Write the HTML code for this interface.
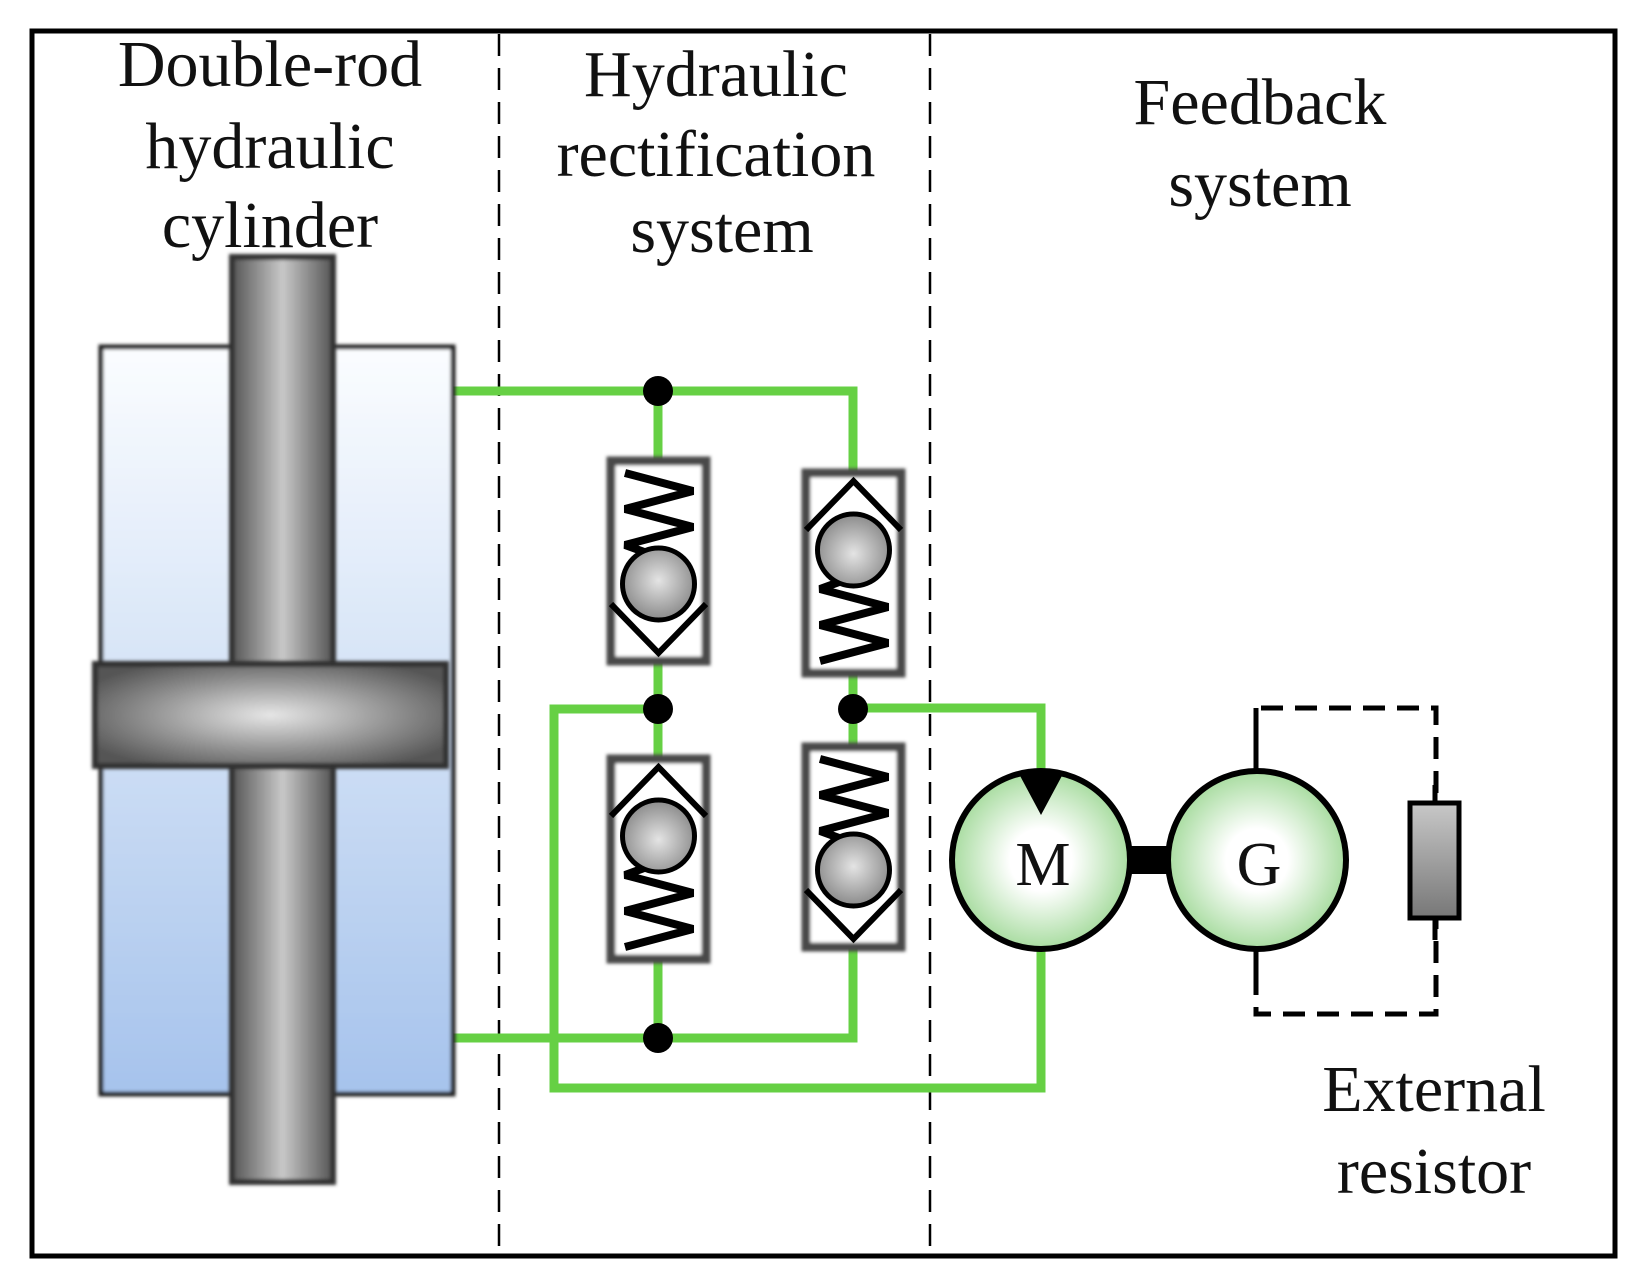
<!DOCTYPE html>
<html><head><meta charset="utf-8"><style>
html,body{margin:0;padding:0;background:#fff}
svg{display:block}
text{font-family:"Liberation Serif",serif;font-size:66px;fill:#111;text-anchor:middle}
</style></head><body>
<svg width="1637" height="1275" viewBox="0 0 1637 1275" xmlns="http://www.w3.org/2000/svg">
<defs>
<linearGradient id="body" x1="0" y1="0" x2="0" y2="1"><stop offset="0" stop-color="#fbfdff"/><stop offset="1" stop-color="#a6c3ec"/></linearGradient>
<linearGradient id="rod" x1="0" y1="0" x2="1" y2="0"><stop offset="0" stop-color="#555"/><stop offset="0.5" stop-color="#c8c8c8"/><stop offset="1" stop-color="#555"/></linearGradient>
<radialGradient id="pist" cx="0.5" cy="0.5" r="0.6"><stop offset="0" stop-color="#e6e6e6"/><stop offset="1" stop-color="#555"/></radialGradient>
<radialGradient id="ball" cx="0.5" cy="0.45" r="0.55"><stop offset="0" stop-color="#e4e4e4"/><stop offset="1" stop-color="#8a8a8a"/></radialGradient>
<radialGradient id="mot" cx="0.5" cy="0.5" r="0.5"><stop offset="0.35" stop-color="#fff"/><stop offset="1" stop-color="#a8dca0"/></radialGradient>
<linearGradient id="res" x1="0" y1="0" x2="0" y2="1"><stop offset="0" stop-color="#c8c8c8"/><stop offset="1" stop-color="#777"/></linearGradient>
<filter id="bl"><feGaussianBlur stdDeviation="1.5"/></filter>
<g id="valve">
<rect x="0" y="0" width="95" height="200" fill="#fff" stroke="#4a4a4a" stroke-width="9" filter="url(#bl)"/>
<polyline points="14,12 82,30 14,48 82,66 14,84 47,96" fill="none" stroke="#000" stroke-width="8" stroke-linejoin="bevel"/>
<polyline points="0,143 47.5,192 95,143" fill="none" stroke="#000" stroke-width="6"/>
<circle cx="47.5" cy="123" r="36" fill="url(#ball)" stroke="#000" stroke-width="5"/>
</g>
</defs>

<rect x="32" y="31" width="1583" height="1225" fill="none" stroke="#000" stroke-width="5"/>
<line x1="499" y1="34" x2="499" y2="1250" stroke="#000" stroke-width="2.5" stroke-dasharray="22,12"/>
<line x1="930" y1="34" x2="930" y2="1250" stroke="#000" stroke-width="2.5" stroke-dasharray="22,12"/>

<text x="270" y="86">Double-rod</text>
<text x="270" y="168">hydraulic</text>
<text x="270" y="247">cylinder</text>
<text x="716" y="96">Hydraulic</text>
<text x="716" y="176">rectification</text>
<text x="722" y="252">system</text>
<text x="1260" y="124">Feedback</text>
<text x="1260" y="206">system</text>
<text x="1434" y="1111">External</text>
<text x="1434" y="1193">resistor</text>

<g fill="none" stroke="#66d044" stroke-width="9">
<polyline points="453,391 853,391 853,1038 453,1038"/>
<line x1="658" y1="391" x2="658" y2="1038"/>
<polyline points="658,709 554,709 554,1088 1041,1088 1041,940"/>
<polyline points="853,708 1041,708 1041,780"/>
</g>

<rect x="101" y="347" width="352" height="747" fill="url(#body)" stroke="#222" stroke-width="5" filter="url(#bl)"/>
<rect x="232" y="257" width="101" height="925" fill="url(#rod)" stroke="#333" stroke-width="6" filter="url(#bl)"/>
<rect x="95" y="664" width="351" height="102" fill="url(#pist)" stroke="#333" stroke-width="6" filter="url(#bl)"/>

<use href="#valve" transform="translate(611,461)"/>
<use href="#valve" transform="translate(611,959) scale(1,-1)"/>
<use href="#valve" transform="translate(806,673) scale(1,-1)"/>
<use href="#valve" transform="translate(806,747)"/>

<g fill="#000">
<circle cx="658" cy="391" r="15"/><circle cx="658" cy="709" r="15"/>
<circle cx="853" cy="709" r="15"/><circle cx="658" cy="1038" r="15"/>
</g>

<path d="M1256,771 V708 H1436 V1014 H1256 V950" fill="none" stroke="#000" stroke-width="5" stroke-dasharray="22,12"/>
<line x1="1256" y1="708" x2="1256" y2="775" stroke="#000" stroke-width="5"/>
<line x1="1256" y1="945" x2="1256" y2="985" stroke="#000" stroke-width="5"/>
<rect x="1410" y="803" width="49" height="115" fill="url(#res)" stroke="#000" stroke-width="5"/>
<line x1="1435" y1="785" x2="1435" y2="803" stroke="#000" stroke-width="5"/>
<line x1="1435" y1="918" x2="1435" y2="940" stroke="#000" stroke-width="5"/>

<rect x="1128" y="846" width="44" height="28" fill="#000"/>
<circle cx="1041" cy="860" r="89" fill="url(#mot)" stroke="#000" stroke-width="6"/>
<circle cx="1257" cy="860" r="89" fill="url(#mot)" stroke="#000" stroke-width="6"/>
<polygon points="1018,772 1064,772 1041,815" fill="#000"/>
<text x="1043" y="885" style="font-size:62px">M</text>
<text x="1259" y="885" style="font-size:62px">G</text>
</svg>
</body></html>
